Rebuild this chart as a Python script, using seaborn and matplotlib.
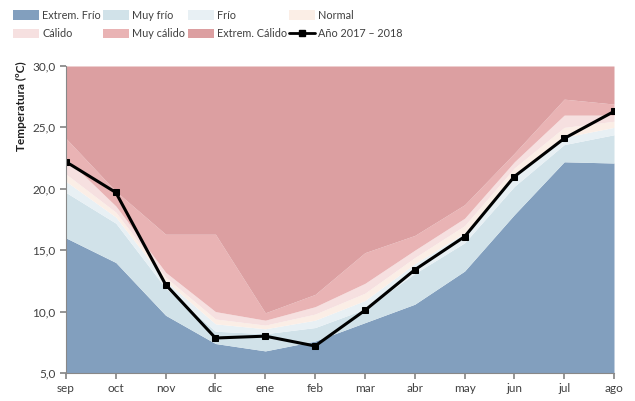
import numpy as np
import pandas as pd
import matplotlib
matplotlib.use("Agg")
import matplotlib.pyplot as plt
import seaborn as sns
from matplotlib.patches import Patch
from matplotlib.lines import Line2D
from matplotlib.ticker import FuncFormatter

# Data
months = ["sep", "oct", "nov", "dic", "ene", "feb", "mar", "abr", "may", "jun", "jul", "ago"]
# upper limit of each class band (ºC)
extrem_frio = [16.0, 14.0, 9.7, 7.4, 6.8, 7.6, 9.1, 10.6, 13.3, 17.9, 22.2, 22.1]
muy_frio = [19.7, 17.2, 11.9, 8.4, 8.2, 8.7, 10.2, 13.1, 15.6, 20.2, 23.6, 24.4]
frio = [20.6, 17.7, 12.5, 9.0, 8.6, 9.3, 10.9, 13.9, 16.4, 21.0, 24.2, 25.0]
normal = [21.2, 18.1, 12.8, 9.4, 8.9, 9.8, 11.5, 14.4, 17.0, 21.7, 25.0, 25.5]
calido = [22.5, 18.6, 13.2, 10.0, 9.3, 10.4, 12.3, 15.0, 17.6, 22.2, 26.0, 26.0]
muy_calido = [24.1, 19.8, 16.3, 16.3, 9.9, 11.4, 14.8, 16.2, 18.7, 22.9, 27.3, 26.9]
extrem_calido = [30.0] * 12
anio = [22.2, 19.7, 12.2, 7.85, 8.0, 7.2, 10.1, 13.4, 16.1, 21.0, 24.1, 26.3]

band_names = ["Extrem. Frío", "Muy frío", "Frío", "Normal", "Cálido", "Muy cálido", "Extrem. Cálido"]
band_tops = [extrem_frio, muy_frio, frio, normal, calido, muy_calido, extrem_calido]
band_colors = ["#829fbe", "#d1e2e9", "#e8f0f4", "#fbeee6", "#f6e0e0", "#e9b3b4", "#dc9fa1"]

df = pd.DataFrame({"mes": months, "x": np.arange(len(months)), "temp": anio})

sns.set_theme(style="ticks")
plt.rcParams["font.family"] = ["Lato", "DejaVu Sans"]

fig = plt.figure(figsize=(6.35, 4.01), dpi=100)
ax = fig.add_axes([66 / 635, 1 - 373 / 401, 548 / 635, 307 / 401])

lower = [5.0] * 12
for name, top, col in zip(band_names, band_tops, band_colors):
    ax.fill_between(df["x"], lower, top, color=col, linewidth=0, label=name)
    lower = top

sns.lineplot(data=df, x="x", y="temp", ax=ax, color="black", linewidth=2.2,
             marker="s", markersize=5, markeredgecolor="black", label="Año 2017 – 2018",
             legend=False)

ax.set_xlim(0, 11)
ax.set_ylim(5, 30)
ax.set_xticks(df["x"])
ax.set_xticklabels(months)
ax.set_yticks([5, 10, 15, 20, 25, 30])
ax.yaxis.set_major_formatter(FuncFormatter(lambda v, p: f"{v:.1f}".replace(".", ",")))
ax.tick_params(labelsize=8.5, colors="#404040", length=4, color="#888888")
ax.set_xlabel("")
ax.set_ylabel("")
for s in ["top", "right"]:
    ax.spines[s].set_visible(False)
for s in ["left", "bottom"]:
    ax.spines[s].set_color("#888888")
    ax.spines[s].set_linewidth(0.8)

fig.text(0.034, 0.735, "Temperatura (ºC)", rotation=90, fontsize=8.5, fontweight="bold",
         ha="center", va="center", color="#202020")

handles = [Patch(facecolor=c, edgecolor="none") for c in band_colors]
handles.append(Line2D([0], [0], color="black", linewidth=2, marker="s", markersize=5))
labels = band_names + ["Año 2017 – 2018"]
order = [0, 4, 1, 5, 2, 6, 3, 7]
fig.legend([handles[i] for i in order], [labels[i] for i in order], ncol=4,
           loc="upper left", bbox_to_anchor=(0.005, 1.0), frameon=False, fontsize=7.8,
           handlelength=2.4, handleheight=1.0, handletextpad=0.3, columnspacing=0.2,
           labelspacing=0.7, labelcolor="#404040")

plt.savefig("out.png", dpi=100)
plt.close()
